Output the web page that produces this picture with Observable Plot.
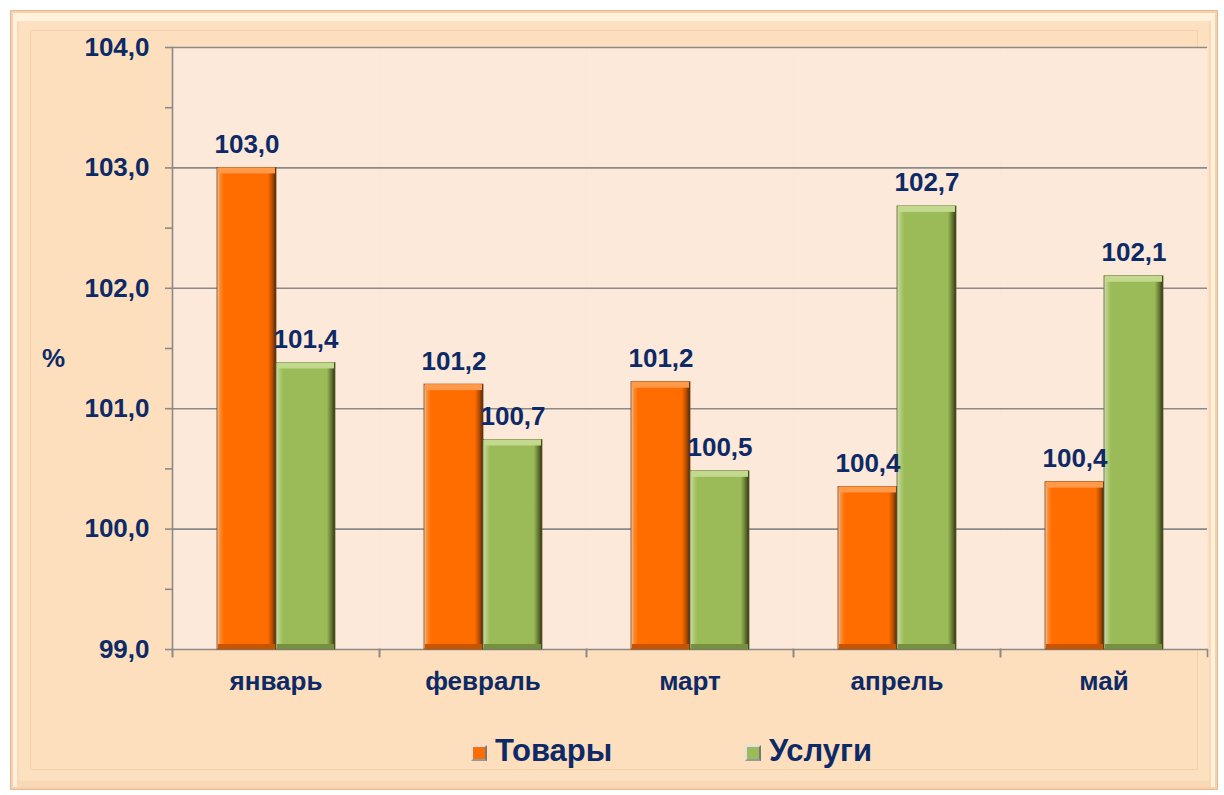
<!DOCTYPE html>
<html><head><meta charset="utf-8">
<script src="https://cdn.jsdelivr.net/npm/d3@7"></script>
<script src="https://cdn.jsdelivr.net/npm/@observablehq/plot@0.6"></script>
<style>
body{margin:0;background:#fff;font-family:"Liberation Sans",Arial,sans-serif;}
#wrap{position:relative;width:1224px;height:795px;overflow:hidden;}
#frame{position:absolute;left:10px;top:10px;width:1208px;height:780px;box-sizing:border-box;background:#fddfbe;
 border:1px solid #e6b995;
 box-shadow: inset 0 0 0 2px #f7d1ab, inset 0 4px 0 6px #fff1dc, inset 0 0 0 8px #f9d8b5, inset 0 0 0 19px #fde0c0, inset 0 0 0 20px #f5d0ab;}
#chart{position:absolute;left:0;top:0;}
#pct{position:absolute;left:42px;top:343px;font-size:26px;font-weight:bold;color:#0d2a66;}
#legend{position:absolute;top:733px;left:0;width:1224px;height:40px;}
.item{position:absolute;top:0;display:flex;align-items:center;font-size:31px;font-weight:bold;color:#0d2a66;}
.sw{width:12px;height:12px;border:2px solid #e0e0e0;border-right-color:#777;border-bottom-color:#999;margin-right:8px;margin-top:3px;}
</style></head>
<body><div id="wrap"><div id="frame"></div><div id="chart"></div><div id="pct">%</div><div id="legend"></div></div>
<script>
const months = ["январь", "февраль", "март", "апрель", "май"];
const seriesNames = ["Товары", "Услуги"];
const goods = [103.0, 101.2, 101.22, 100.35, 100.39];
const services = [101.38, 100.74, 100.48, 102.68, 102.1];
const goodsLabels = ["103,0", "101,2", "101,2", "100,4", "100,4"];
const servicesLabels = ["101,4", "100,7", "100,5", "102,7", "102,1"];
const yTicks = [99, 99.5, 100, 100.5, 101, 101.5, 102, 102.5, 103, 103.5, 104];

const navy = "#0d2a66";
const rows = [];
months.forEach((m, i) => {
  rows.push({month: m, series: seriesNames[0], value: goods[i], label: goodsLabels[i]});
  rows.push({month: m, series: seriesNames[1], value: services[i], label: servicesLabels[i]});
});
const gRows = rows.filter(d => d.series === seriesNames[0]);
const sRows = rows.filter(d => d.series === seriesNames[1]);

const barOpts = {fx: "month", x: "series", insetLeft: 1, insetRight: 1};
const plot = Plot.plot({
  width: 1224,
  height: 720,
  marginLeft: 172,
  marginRight: 17,
  marginTop: 47,
  marginBottom: 71,
  style: {background: "transparent", fontFamily: "Liberation Sans, Arial, sans-serif"},
  fx: {domain: months, padding: 0, label: null},
  x: {domain: seriesNames, paddingInner: 0, paddingOuter: 0.74, axis: null},
  y: {domain: [99, 104]},
  marks: [
    Plot.frame({fill: "#fce9da", stroke: null}),
    Plot.gridY([99, 100, 101, 102, 103, 104], {stroke: "#8a8a8a", strokeOpacity: 1, strokeWidth: 1.6}),
    Plot.frame({anchor: "left", insetTop: 602, insetBottom: -7, stroke: "#8a8a8a", strokeWidth: 1.6}),
    Plot.frame({anchor: "right", insetTop: 602, insetBottom: -7, stroke: "#8a8a8a", strokeWidth: 1.6}),
    Plot.frame({anchor: "left", insetBottom: -7, stroke: "#8a8a8a", strokeWidth: 1.6, facetAnchor: "left"}),
    Plot.axisY({ticks: yTicks, tickSize: 7, tickPadding: 16, stroke: "#8a8a8a", strokeWidth: 1.6,
      tickFormat: d => Number.isInteger(d) ? d.toFixed(1).replace(".", ",") : "",
      fontSize: 26, fontWeight: "bold", fill: navy, label: null}),
    Plot.axisFx({anchor: "bottom", tickSize: 0, tickPadding: 22, fontSize: 26, fontWeight: "bold", fill: navy, label: null}),
    Plot.barY(gRows, {fx: "month", x: "series", y1: 99, y2: "value", fill: "url(#gOrange)", stroke: "#8c3d06", strokeWidth: 0.8}),
    Plot.barY(sRows, {fx: "month", x: "series", y1: 99, y2: "value", fill: "url(#gGreen)", stroke: "#56692b", strokeWidth: 0.8}),
    Plot.barY(gRows, {...barOpts, y1: "value", y2: "value", insetBottom: -6, fill: "#ff9a4a"}),
    Plot.barY(sRows, {...barOpts, y1: "value", y2: "value", insetBottom: -6, fill: "#c2d98e"}),
    Plot.barY(gRows, {...barOpts, y1: 99, y2: 99, insetTop: -5, fill: "#c95400"}),
    Plot.barY(sRows, {...barOpts, y1: 99, y2: 99, insetTop: -5, fill: "#76903f"}),
    Plot.text(rows, {fx: "month", x: "series", y: "value", text: "label", lineAnchor: "bottom", dy: -15,
      fontSize: 26, fontWeight: "bold", fill: navy})
  ]
});

const defs = d3.select(plot).insert("defs", ":first-child");
function grad(id, edgeL, mid, edgeR) {
  const g = defs.append("linearGradient").attr("id", id).attr("x1", "0").attr("x2", "1").attr("y1", "0").attr("y2", "0");
  [[0, "#d9d2c8"], [0.05, edgeL], [0.12, mid], [0.86, mid], [0.94, edgeR], [1, "#3a2a1a"]].forEach(([o, c]) =>
    g.append("stop").attr("offset", o).attr("stop-color", c));
}
grad("gOrange", "#ff8a2a", "#ff6d00", "#b34a00");
grad("gGreen", "#b4cf7a", "#9bbb59", "#61762f");

document.getElementById("chart").appendChild(plot);

const legend = document.getElementById("legend");
const legendItems = [
  {name: seriesNames[0], color: "#ff6d00", left: 471},
  {name: seriesNames[1], color: "#9bbb59", left: 745}
];
legendItems.forEach(it => {
  const el = document.createElement("div");
  el.className = "item";
  el.style.left = it.left + "px";
  el.innerHTML = `<span class="sw" style="background:${it.color}"></span><span>${it.name}</span>`;
  legend.appendChild(el);
});
</script></body></html>
